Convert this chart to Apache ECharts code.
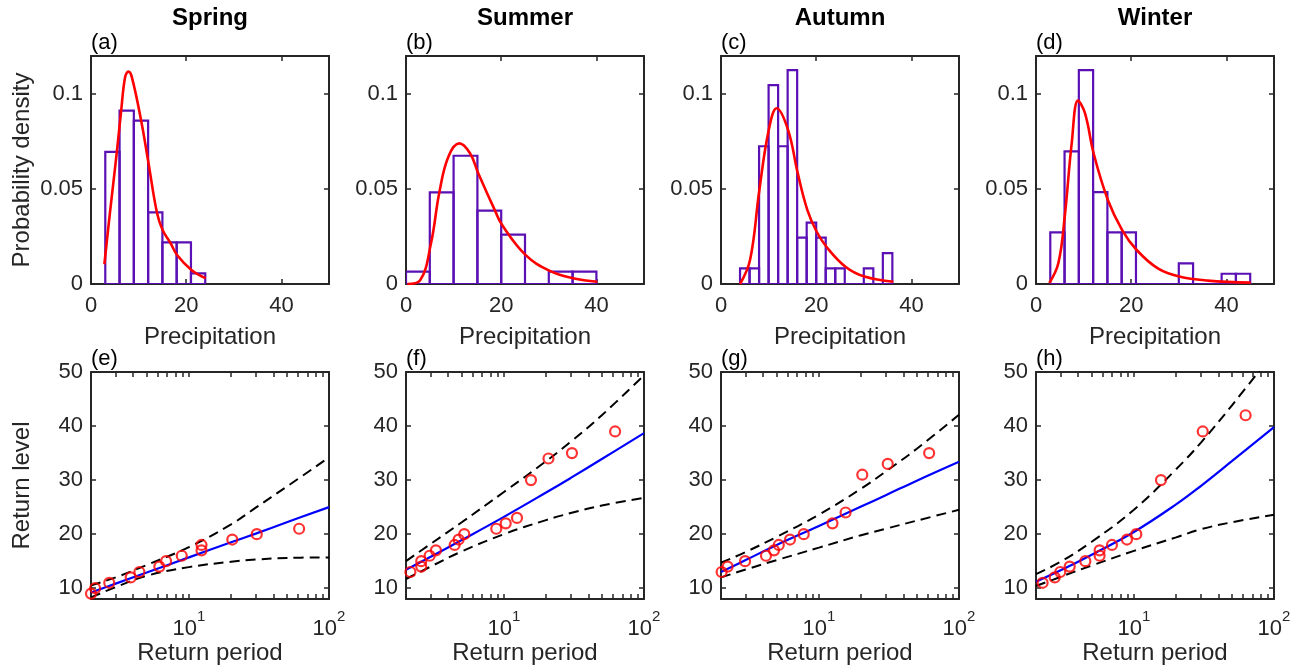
<!DOCTYPE html>
<html><head><meta charset="utf-8">
<script src="https://cdn.jsdelivr.net/npm/echarts@6/dist/echarts.min.js"></script>
<style>html,body{margin:0;padding:0;background:#fff}#c{width:1304px;height:668px}</style>
</head><body><div id="c"></div>
<script>
// ---------- tick labels / categories ----------
const seasonNames = ['Spring', 'Summer', 'Autumn', 'Winter'];
const topLabels = ['(a)', '(b)', '(c)', '(d)'];
const bottomLabels = ['(e)', '(f)', '(g)', '(h)'];
const precipTicks = [0, 20, 40];
const densityTicks = [0, 0.05, 0.1];
const levelTicks = [10, 20, 30, 40, 50];
const periodTicks = [2, 3, 4, 5, 6, 7, 8, 9, 10, 20, 30, 40, 50, 60, 70, 80, 90, 100];
const periodLabels = [10, 100];

// ---------- histograms (bin edges, density) ----------
const springEdges = [3, 6, 9, 12, 15, 18, 21, 24];
const springDensity = [0.0695, 0.0912, 0.0860, 0.0377, 0.0219, 0.0219, 0.0056];
const summerEdges = [0, 5, 10, 15, 20, 25, 30, 35, 40];
const summerDensity = [0.0065, 0.0482, 0.0675, 0.0386, 0.0260, 0, 0.0065, 0.0065];
const autumnEdges = [4, 6, 8, 10, 12, 14, 16, 18, 20, 22, 24, 26, 28, 30, 32, 34, 36];
const autumnDensity = [0.0082, 0.0082, 0.0725, 0.1047, 0.0725, 0.1126, 0.0244, 0.0323, 0.0244, 0.0082, 0.0082, 0, 0, 0.0082, 0, 0.0163];
const winterEdges = [3, 6, 9, 12, 15, 18, 21, 24, 27, 30, 33, 36, 39, 42, 45];
const winterDensity = [0.0272, 0.0698, 0.1126, 0.0484, 0.0272, 0.0272, 0, 0, 0, 0.0109, 0, 0, 0.0054, 0.0054];

// ---------- fitted pdf curves ----------
const springPdfX = [2.81, 4.0, 5.42, 6.33, 7.17, 7.87, 8.57, 10.55, 12.09, 13.86, 15.04, 16.67, 18.08, 21.1, 24.1];
const springPdfY = [0.0104, 0.038, 0.0693, 0.091, 0.109, 0.1118, 0.109, 0.0858, 0.0635, 0.0375, 0.0284, 0.0217, 0.0153, 0.0074, 0.0030];
const summerPdfX = [0.28, 2.94, 5.25, 7.0, 8.9, 11.2, 13.45, 15.2, 18.7, 20.2, 25.1, 30.1, 35.1, 40.2];
const summerPdfY = [0, 0.0018, 0.0214, 0.0482, 0.067, 0.074, 0.0688, 0.0582, 0.0386, 0.031, 0.0153, 0.0070, 0.003, 0.0012];
const autumnPdfX = [4.0, 6.1, 8.06, 10.03, 11.7, 14.1, 16.13, 18.15, 20.1, 22.15, 26.15, 30.15, 36.2];
const autumnPdfY = [0, 0.0126, 0.0495, 0.081, 0.0925, 0.081, 0.0582, 0.0389, 0.0275, 0.0196, 0.0091, 0.0039, 0.0012];
const winterPdfX = [2.8, 4.69, 6.03, 7.5, 8.82, 10.3, 12.1, 15.1, 18.1, 21.15, 25.6, 30.1, 36.1, 45.1];
const winterPdfY = [0.0005, 0.0109, 0.0354, 0.074, 0.0965, 0.0898, 0.0688, 0.0442, 0.0284, 0.0179, 0.0082, 0.0039, 0.0018, 0.0007];

// ---------- return level plots ----------
const curveT = [2, 3, 5, 10, 20, 30, 50, 100];

const springObsT = [2.0, 2.14, 2.7, 3.84, 4.43, 6.15, 6.87, 8.89, 12.3, 12.3, 20.4, 30.5, 61.2];
const springObsLevel = [9, 10, 11, 12, 13, 14, 15, 16, 18, 17, 19, 20, 21];
const springFitLevel = [9.2, 10.85, 12.9, 15.7, 18.5, 20.1, 22.2, 25.0];
const springUpperLevel = [10.5, 12.0, 14.3, 17.6, 21.8, 24.9, 28.8, 34.2];
const springLowerLevel = [8.3, 10.2, 12.3, 13.9, 14.9, 15.3, 15.6, 15.7];

const summerObsT = [2.15, 2.57, 2.57, 2.95, 3.27, 4.45, 4.75, 5.21, 8.82, 10.3, 12.4, 15.6, 20.8, 30.6, 62.2];
const summerObsLevel = [13, 15, 14, 16, 17, 18, 19, 20, 21, 22, 23, 30, 34, 35, 39];
const summerFitLevel = [13.4, 15.8, 18.9, 23.2, 27.7, 30.4, 33.9, 38.7];
const summerUpperLevel = [15.0, 18.2, 22.2, 27.8, 33.5, 37.1, 42.0, 49.4];
const summerLowerLevel = [11.7, 14.0, 16.8, 20.0, 22.6, 23.9, 25.3, 26.7];

const autumnObsT = [2.02, 2.23, 2.97, 4.19, 4.78, 5.17, 6.22, 7.79, 12.5, 15.5, 20.4, 31.0, 61.2];
const autumnObsLevel = [13, 14, 15, 16, 17, 18, 19, 20, 22, 24, 31, 33, 35];
const autumnFitLevel = [13.0, 15.2, 18.0, 21.5, 25.1, 27.2, 29.9, 33.4];
const autumnUpperLevel = [14.7, 16.7, 19.5, 23.6, 28.4, 31.6, 35.8, 42.1];
const autumnLowerLevel = [12.0, 13.45, 15.2, 17.5, 19.8, 21.0, 22.5, 24.5];

const winterObsT = [2.23, 2.72, 2.98, 3.48, 4.50, 5.69, 5.69, 6.97, 8.92, 10.4, 15.6, 31.0, 62.7];
const winterObsLevel = [11, 12, 13, 14, 15, 17, 16, 18, 19, 20, 30, 39, 42];
const winterFitLevel = [11.2, 13.3, 16.2, 20.4, 25.5, 28.9, 33.5, 39.8];
const winterUpperLevel = [12.6, 14.9, 18.6, 24.5, 32.0, 36.9, 43.8, 53.7];
const winterLowerLevel = [10.4, 12.1, 14.2, 16.9, 19.4, 20.9, 22.2, 23.6];

// ---------- assembly ----------
const hist = [
  [springEdges, springDensity], [summerEdges, summerDensity],
  [autumnEdges, autumnDensity], [winterEdges, winterDensity]];
const pdf = [
  [springPdfX, springPdfY], [summerPdfX, summerPdfY],
  [autumnPdfX, autumnPdfY], [winterPdfX, winterPdfY]];
const rl = [
  {obs: [springObsT, springObsLevel], fit: springFitLevel, up: springUpperLevel, lo: springLowerLevel},
  {obs: [summerObsT, summerObsLevel], fit: summerFitLevel, up: summerUpperLevel, lo: summerLowerLevel},
  {obs: [autumnObsT, autumnObsLevel], fit: autumnFitLevel, up: autumnUpperLevel, lo: autumnLowerLevel},
  {obs: [winterObsT, winterObsLevel], fit: winterFitLevel, up: winterUpperLevel, lo: winterLowerLevel}];

const FONT = '"Liberation Sans", Arial, Helvetica, sans-serif';
const AX = '#262626';
const PURPLE = '#5a10b4';
const lefts = [91, 406, 721, 1036];
const W = 238;
const TOP1 = 56, H1 = 228, TOP2 = 372, H2 = 227;

const zip = (a, b) => a.map((v, i) => [v, b[i]]);
const grids = [], xAxes = [], yAxes = [], series = [], graphics = [];

function axis(o) {
  const tickVals = o.ticks, labelVals = o.labels;
  const a = {
    gridIndex: o.grid, type: o.type || 'value', min: o.min, max: o.max, position: o.position,
    axisLine: {show: true, onZero: false, lineStyle: {color: AX, width: 2}},
    axisTick: {show: true, inside: true, length: 5, customValues: tickVals, lineStyle: {color: AX, width: 1.5}},
    axisLabel: {show: !!labelVals, customValues: labelVals || tickVals, fontSize: 22, color: AX, fontFamily: FONT, margin: o.margin || 9},
    splitLine: {show: false}
  };
  if (o.type === 'log') a.logBase = 10;
  if (o.formatter) a.axisLabel.formatter = o.formatter;
  if (o.rich) a.axisLabel.rich = o.rich;
  if (o.name) {
    a.name = o.name; a.nameLocation = 'middle'; a.nameGap = o.nameGap;
    a.nameTextStyle = {fontSize: 24, color: AX, fontFamily: FONT};
  }
  return a;
}

for (let i = 0; i < 4; i++) {
  // ---- top row: histogram + pdf ----
  let g = grids.length;
  grids.push({left: lefts[i], top: TOP1, width: W, height: H1});
  let xi = xAxes.length, yi = yAxes.length;
  xAxes.push(axis({grid: g, min: 0, max: 50, position: 'bottom', ticks: precipTicks, labels: precipTicks, margin: 11, name: 'Precipitation', nameGap: 41}));
  xAxes.push(axis({grid: g, min: 0, max: 50, position: 'top', ticks: precipTicks}));
  yAxes.push(axis({grid: g, min: 0, max: 0.12, position: 'left', ticks: densityTicks, labels: densityTicks, margin: 8,
    name: i === 0 ? 'Probability density' : null, nameGap: 57}));
  yAxes.push(axis({grid: g, min: 0, max: 0.12, position: 'right', ticks: densityTicks}));

  const [edges, dens] = hist[i];
  series.push({
    type: 'custom', xAxisIndex: xi, yAxisIndex: yi, silent: true, clip: true, z: 2,
    data: dens.map((h, k) => [edges[k], edges[k + 1], h]),
    encode: {x: [0, 1], y: 2},
    renderItem: (params, api) => {
      const p0 = api.coord([api.value(0), api.value(2)]);
      const p1 = api.coord([api.value(1), 0]);
      return {type: 'rect', shape: {x: p0[0], y: p0[1], width: p1[0] - p0[0], height: p1[1] - p0[1]},
        style: {fill: 'none', stroke: PURPLE, lineWidth: 2.2}};
    }
  });
  series.push({
    type: 'line', xAxisIndex: xi, yAxisIndex: yi, silent: true, z: 3,
    data: zip(pdf[i][0], pdf[i][1]), smooth: 0.4, showSymbol: false,
    lineStyle: {color: '#ff0000', width: 2.6}
  });

  // ---- bottom row: return levels ----
  g = grids.length;
  grids.push({left: lefts[i], top: TOP2, width: W, height: H2});
  xi = xAxes.length; yi = yAxes.length;
  const supFmt = v => '{b|10}{s|' + Math.round(Math.log10(v)) + '}';
  const rich = {b: {fontSize: 22, color: AX, fontFamily: FONT, verticalAlign: 'bottom'},
                s: {fontSize: 15, color: AX, fontFamily: FONT, verticalAlign: 'top', padding: [0, 0, 16, 0]}};
  xAxes.push(axis({grid: g, type: 'log', min: 2, max: 100, position: 'bottom', ticks: periodTicks, labels: periodLabels,
    margin: 10, formatter: supFmt, rich: rich, name: 'Return period', nameGap: 38}));
  xAxes.push(axis({grid: g, type: 'log', min: 2, max: 100, position: 'top', ticks: periodTicks}));
  yAxes.push(axis({grid: g, min: 8, max: 50, position: 'left', ticks: levelTicks, labels: levelTicks, margin: 8,
    name: i === 0 ? 'Return level' : null, nameGap: 57}));
  yAxes.push(axis({grid: g, min: 8, max: 50, position: 'right', ticks: levelTicks}));

  const d = rl[i];
  const dash = {color: '#000', width: 2, type: [10, 6]};
  series.push({type: 'line', xAxisIndex: xi, yAxisIndex: yi, silent: true, z: 3, clip: true,
    data: zip(curveT, d.up), smooth: 0.4, showSymbol: false, lineStyle: dash});
  series.push({type: 'line', xAxisIndex: xi, yAxisIndex: yi, silent: true, z: 3, clip: true,
    data: zip(curveT, d.lo), smooth: 0.4, showSymbol: false, lineStyle: dash});
  series.push({type: 'line', xAxisIndex: xi, yAxisIndex: yi, silent: true, z: 4, clip: true,
    data: zip(curveT, d.fit), smooth: 0.4, showSymbol: false, lineStyle: {color: '#0000ff', width: 2.2}});
  series.push({type: 'scatter', xAxisIndex: xi, yAxisIndex: yi, silent: true, z: 5, clip: false,
    data: zip(d.obs[0], d.obs[1]), symbol: 'circle', symbolSize: 10,
    itemStyle: {color: 'rgba(0,0,0,0)', borderColor: '#ff0000', borderWidth: 2.2}});

  // ---- texts ----
  graphics.push({type: 'text', x: lefts[i] + W / 2, y: 18.5, silent: true,
    style: {text: seasonNames[i], fontFamily: FONT, fontSize: 24, fontWeight: 'bold', fill: '#000', align: 'center', verticalAlign: 'middle'}});
  graphics.push({type: 'text', x: lefts[i], y: 43, silent: true,
    style: {text: topLabels[i], fontFamily: FONT, fontSize: 22, fill: '#000', align: 'left', verticalAlign: 'middle'}});
  graphics.push({type: 'text', x: lefts[i], y: 359, silent: true,
    style: {text: bottomLabels[i], fontFamily: FONT, fontSize: 22, fill: '#000', align: 'left', verticalAlign: 'middle'}});
}

const chart = echarts.init(document.getElementById('c'), null, {renderer: 'canvas'});
chart.setOption({
  backgroundColor: '#ffffff',
  animation: false,
  grid: grids, xAxis: xAxes, yAxis: yAxes, series: series, graphic: graphics
});
</script></body></html>
